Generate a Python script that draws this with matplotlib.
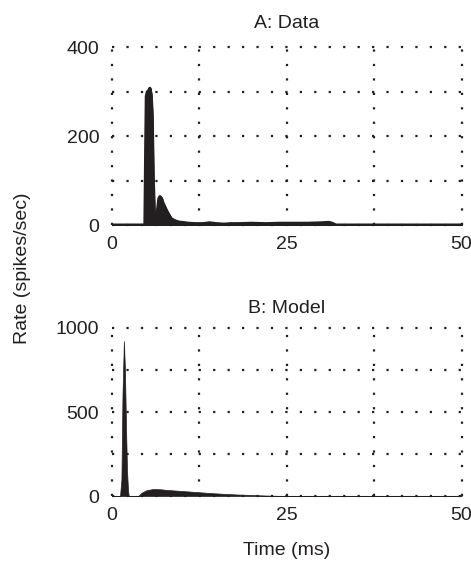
import matplotlib
matplotlib.use("Agg")
import matplotlib.pyplot as plt

plt.rcParams['font.family'] = ['Liberation Sans', 'DejaVu Sans']

# A: recorded PSTH (time in ms, rate in spikes/sec)
data_t = [0, 4.75, 4.85, 4.95, 5.1, 5.3, 5.45, 5.6, 5.75, 5.9, 6.05, 6.2, 6.4, 6.6, 6.75,
          6.9, 7.1, 7.3, 7.6, 7.9, 8.2, 8.5, 9.0, 9.5, 10.0, 10.5, 11, 12, 13, 14, 15,
          16, 17, 18, 20, 22, 24, 26, 28, 30, 31, 31.5, 32, 50]
data_r = [0, 0, 150, 290, 300, 303, 308, 295, 250, 110, 30, 14, 10, 40, 60,
          64, 60, 50, 40, 30, 22, 14, 10, 7, 6, 5, 4, 3, 3, 5, 3,
          2, 3, 3, 4, 3, 4, 4, 4, 5, 6, 4, 0, 0]

# B: model response
model_t = [0, 1.2, 1.4, 1.55, 1.75, 1.9, 2.05, 2.2, 2.35, 2.45, 3.8, 4.3, 5.0, 6.0, 7, 8,
           10, 12, 14, 16, 18, 20, 22, 24, 25, 50]
model_r = [0, 0, 100, 600, 922, 760, 420, 150, 30, 0, 0, 20, 35, 42, 40, 36,
           30, 24, 18, 13, 9, 6, 3, 1, 0, 0]

ink = '#231f20'
dots = (0, (1, 5.5))
fs = 14


def style(ax, ymax, major, minor):
    ax.set_xlim(0, 50)
    ax.set_ylim(0, ymax)
    ax.set_xticks([0, 25, 50])
    ax.set_xticks([12.5, 37.5], minor=True)
    ax.set_yticks(major)
    ax.set_yticks(minor, minor=True)
    ax.tick_params(which='both', length=0, labelsize=fs, colors=ink)
    ax.tick_params(axis='x', pad=8)
    ax.tick_params(axis='y', pad=9)
    for s in ax.spines.values():
        s.set_visible(False)
    for x in [0, 12.5, 25, 37.5, 50]:
        ax.axvline(x, color=ink, lw=1.6, ls=dots, clip_on=False, zorder=1)
    for y in list(major) + list(minor):
        ax.axhline(y, color=ink, lw=1.6, ls=dots, clip_on=False, zorder=1)


fig = plt.figure(figsize=(4.71, 5.62), dpi=100)
ax1 = fig.add_axes([0.237, 0.5996, 0.743, 0.316])
ax2 = fig.add_axes([0.237, 0.1174, 0.743, 0.299])

ax1.fill_between(data_t, data_r, color=ink, lw=2, edgecolor=ink, zorder=3)
ax1.plot(data_t, data_r, color=ink, lw=2.2, zorder=3)
style(ax1, 400, [0, 200, 400], [100, 300])
ax1.set_title('A: Data', fontsize=fs, color=ink, pad=14)

ax2.fill_between(model_t, model_r, color=ink, lw=0.5, edgecolor=ink, zorder=3)
style(ax2, 1000, [0, 500, 1000], [250, 750])
ax2.axhline(0, color='#777777', lw=0.8, zorder=2)
ax2.set_title('B: Model', fontsize=fs, color=ink, pad=11)
ax2.set_xlabel('Time (ms)', fontsize=fs, color=ink, labelpad=13)

fig.text(0.047, 0.523, 'Rate (spikes/sec)', rotation=90, fontsize=fs, color=ink,
         ha='center', va='center')

fig.savefig('out.png', dpi=100)
